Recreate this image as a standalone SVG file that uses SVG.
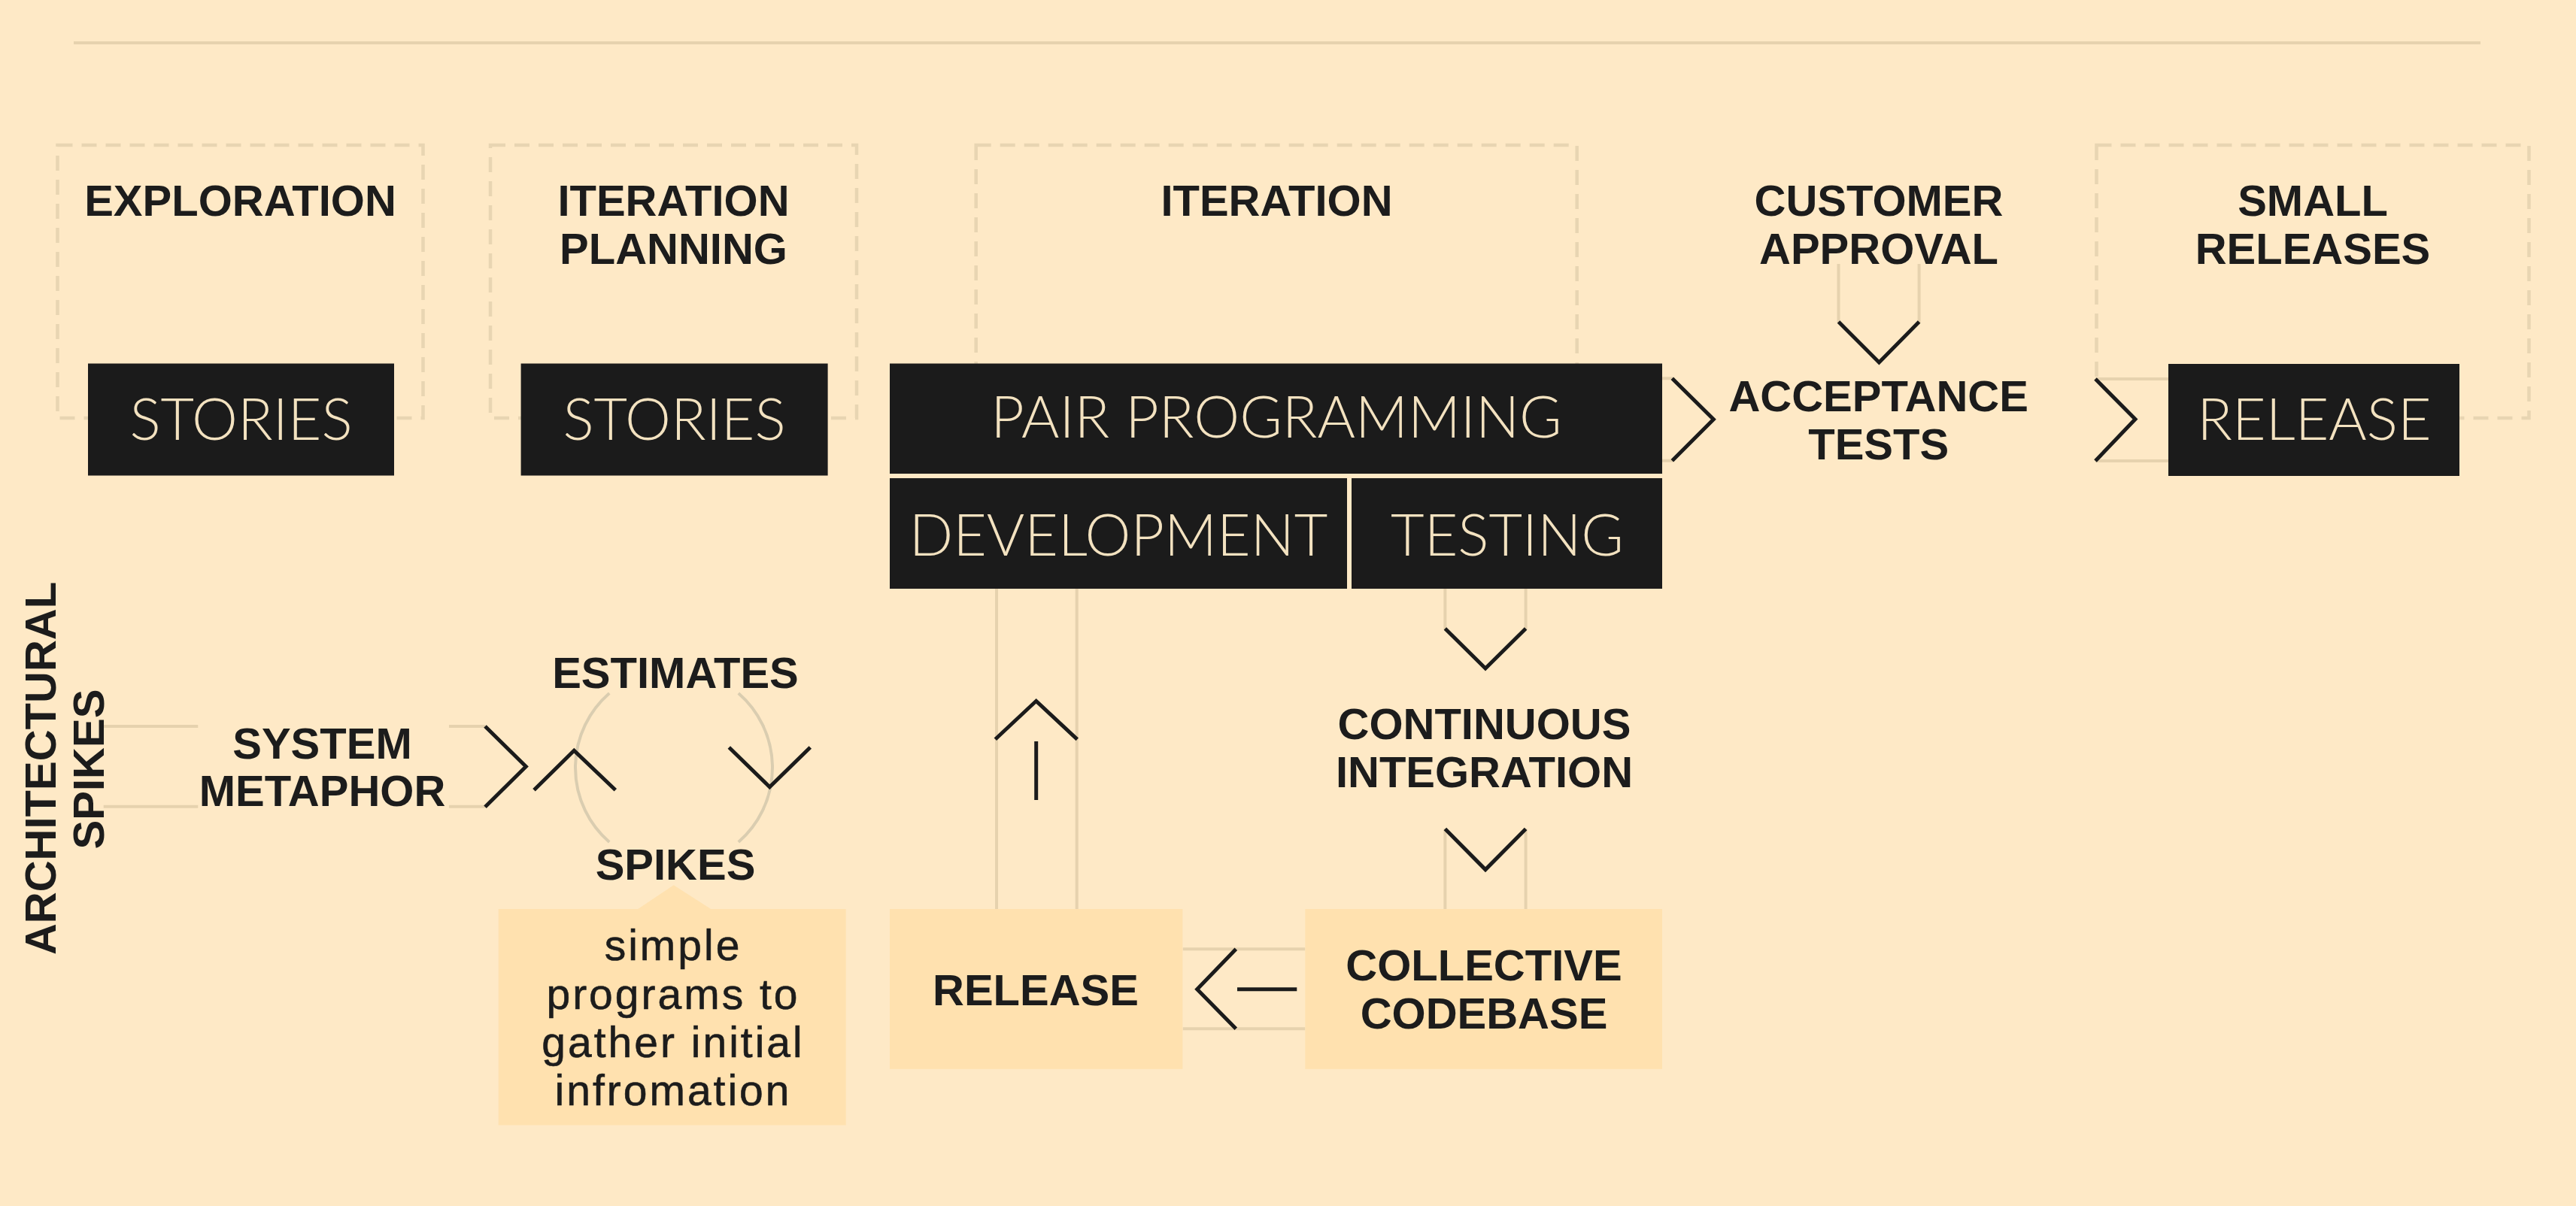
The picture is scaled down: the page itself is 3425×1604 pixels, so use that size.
<svg xmlns="http://www.w3.org/2000/svg" width="3425" height="1604" viewBox="0 0 3425 1604">
<defs>
<style>
.bg{fill:#FEE9C6}
.dash{fill:none;stroke:#E8D5B2;stroke-width:4.5;stroke-dasharray:20 12}
.dark{fill:#1B1B1B}
.lightbox{fill:#FFE1AF}
.ll{fill:none;stroke:#E6D2AE;stroke-width:4}
.arc{fill:none;stroke:#DACDB0;stroke-width:4}
.chev{fill:none;stroke:#1B1B1B;stroke-width:5;stroke-linecap:butt;stroke-linejoin:miter}
.shaft{fill:none;stroke:#1B1B1B;stroke-width:5}
.b{font-family:"Liberation Sans",Arial,sans-serif;font-weight:bold;font-size:58px;fill:#1C1C1C;text-anchor:middle}
.l{font-family:Lato,"Liberation Sans",sans-serif;font-weight:300;font-size:77px;fill:#F3E2C0;text-anchor:middle}
.r{font-family:"Liberation Sans",Arial,sans-serif;font-size:57px;fill:#1C1C1C;text-anchor:middle;letter-spacing:3px;stroke:#1C1C1C;stroke-width:0.6px}
</style>
</defs>
<rect class="bg" x="0" y="0" width="3425" height="1604"/>
<line class="ll" x1="98" y1="57" x2="3298" y2="57"/>

<g id="phase-exploration">
<rect class="dash" x="76.5" y="193" width="486" height="363"/>
<text class="b" x="319.5" y="286.5">EXPLORATION</text>
</g>
<g id="phase-iteration-planning">
<rect class="dash" x="652" y="193" width="487" height="363"/>
<text class="b" x="895.5" y="286.5">ITERATION</text>
<text class="b" x="895.5" y="350.5">PLANNING</text>
</g>
<g id="phase-iteration">
<rect class="dash" x="1297.7" y="193" width="799" height="363"/>
<text class="b" x="1697.5" y="286.5">ITERATION</text>
</g>
<g id="phase-customer-approval">
<text class="b" x="2498" y="286.5">CUSTOMER</text>
<text class="b" x="2498" y="350.5">APPROVAL</text>
</g>
<g id="phase-small-releases">
<rect class="dash" x="2787.5" y="193" width="575" height="363"/>
<text class="b" x="3075" y="286.5">SMALL</text>
<text class="b" x="3075" y="350.5">RELEASES</text>
</g>

<g id="connectors">
<!-- pair programming -> acceptance tests -->
<line class="ll" x1="2210" y1="503.3" x2="2224" y2="503.3"/>
<line class="ll" x1="2210" y1="612.7" x2="2224" y2="612.7"/>
<polyline class="chev" points="2223.3,503.3 2278.3,557.7 2223.3,612.7"/>
<!-- acceptance tests -> release -->
<rect class="bg" x="2784" y="504" width="99" height="109"/>
<line class="ll" x1="2786" y1="504" x2="2883" y2="504"/>
<line class="ll" x1="2786" y1="613" x2="2883" y2="613"/>
<polyline class="chev" points="2786,504 2839,557.6 2786,613"/>
<!-- customer approval -> acceptance tests -->
<line class="ll" x1="2444.5" y1="351" x2="2444.5" y2="429"/>
<line class="ll" x1="2551.6" y1="351" x2="2551.6" y2="429"/>
<polyline class="chev" points="2444.5,428 2498.4,482 2551.6,428"/>
<!-- testing -> continuous integration -->
<line class="ll" x1="1921.4" y1="783" x2="1921.4" y2="837"/>
<line class="ll" x1="2028.6" y1="783" x2="2028.6" y2="837"/>
<polyline class="chev" points="1921.4,836 1975,889 2028.6,836"/>
<!-- continuous integration -> collective codebase -->
<line class="ll" x1="1921.4" y1="1102" x2="1921.4" y2="1209"/>
<line class="ll" x1="2028.6" y1="1102" x2="2028.6" y2="1209"/>
<polyline class="chev" points="1921.4,1102.4 1975,1156.6 2028.6,1102.4"/>
<!-- collective codebase -> release -->
<line class="ll" x1="1572.7" y1="1262.3" x2="1735.4" y2="1262.3"/>
<line class="ll" x1="1572.7" y1="1368.3" x2="1735.4" y2="1368.3"/>
<polyline class="chev" points="1643.3,1262.3 1591.7,1315.7 1643.3,1368.3"/>
<line class="shaft" x1="1645" y1="1315.7" x2="1724.3" y2="1315.7"/>
<!-- release -> development -->
<line class="ll" x1="1325" y1="783" x2="1325" y2="1209"/>
<line class="ll" x1="1431.7" y1="783" x2="1431.7" y2="1209"/>
<polyline class="chev" points="1323.3,983.3 1377.7,932.3 1432.3,983.3"/>
<line class="shaft" x1="1377.7" y1="986" x2="1377.7" y2="1064"/>
<!-- architectural spikes -> system metaphor -> estimates cycle -->
<line class="ll" x1="137.7" y1="966" x2="263.3" y2="966"/>
<line class="ll" x1="137.7" y1="1072.7" x2="263.3" y2="1072.7"/>
<line class="ll" x1="597" y1="966" x2="645" y2="966"/>
<line class="ll" x1="597" y1="1072.7" x2="645" y2="1072.7"/>
<polyline class="chev" points="645,966 699.3,1019.5 645,1073.3"/>
<!-- estimates / spikes cycle -->
<path class="arc" d="M 810.2 922 A 131 131 0 0 0 810.2 1120"/>
<path class="arc" d="M 981.8 922 A 131 131 0 0 1 981.8 1120"/>
<polyline class="chev" points="710,1050.7 763.3,998.3 818.3,1050.7"/>
<polyline class="chev" points="969.3,994 1023.3,1046.7 1077.3,994"/>
</g>

<g id="node-stories-1">
<rect class="dark" x="117" y="483.5" width="407" height="149"/>
<text class="l" x="320.5" y="585">STORIES</text>
</g>
<g id="node-stories-2">
<rect class="dark" x="692.6" y="483.5" width="408" height="149"/>
<text class="l" x="896.5" y="585">STORIES</text>
</g>
<g id="node-pair-programming">
<rect class="dark" x="1183" y="483.5" width="1027" height="146.5"/>
<text class="l" x="1697" y="582">PAIR PROGRAMMING</text>
</g>
<g id="node-development">
<rect class="dark" x="1183" y="636" width="608" height="147"/>
<text class="l" x="1487" y="739">DEVELOPMENT</text>
</g>
<g id="node-testing">
<rect class="dark" x="1797" y="636" width="413" height="147"/>
<text class="l" x="2004" y="739">TESTING</text>
</g>
<g id="node-acceptance-tests">
<text class="b" x="2497.7" y="547">ACCEPTANCE</text>
<text class="b" x="2497.7" y="611">TESTS</text>
</g>
<g id="node-release-final">
<rect class="dark" x="2883" y="484" width="387" height="149"/>
<text class="l" x="3077" y="585">RELEASE</text>
</g>
<g id="node-architectural-spikes">
<text class="b" transform="translate(74,1022) rotate(-90)">ARCHITECTURAL</text>
<text class="b" transform="translate(137.7,1023) rotate(-90)">SPIKES</text>
</g>
<g id="node-system-metaphor">
<text class="b" x="428.5" y="1008.5">SYSTEM</text>
<text class="b" x="428.5" y="1072">METAPHOR</text>
</g>
<g id="node-estimates">
<text class="b" x="898" y="915">ESTIMATES</text>
</g>
<g id="node-spikes">
<text class="b" x="898" y="1170">SPIKES</text>
<polygon class="lightbox" points="846.7,1210 895.7,1177.3 946.7,1210"/>
<rect class="lightbox" x="662.7" y="1209" width="462" height="287.5"/>
<text class="r" x="895" y="1277.3">simple</text>
<text class="r" x="895" y="1341.7">programs to</text>
<text class="r" x="895" y="1406">gather initial</text>
<text class="r" x="895" y="1470">infromation</text>
</g>
<g id="node-continuous-integration">
<text class="b" x="1973.5" y="982.5">CONTINUOUS</text>
<text class="b" x="1973.5" y="1047">INTEGRATION</text>
</g>
<g id="node-release">
<rect class="lightbox" x="1183" y="1209" width="389.4" height="212.8"/>
<text class="b" x="1377" y="1337">RELEASE</text>
</g>
<g id="node-collective-codebase">
<rect class="lightbox" x="1735.4" y="1209" width="474.6" height="212.8"/>
<text class="b" x="1973" y="1303.6">COLLECTIVE</text>
<text class="b" x="1973" y="1368">CODEBASE</text>
</g>
</svg>
